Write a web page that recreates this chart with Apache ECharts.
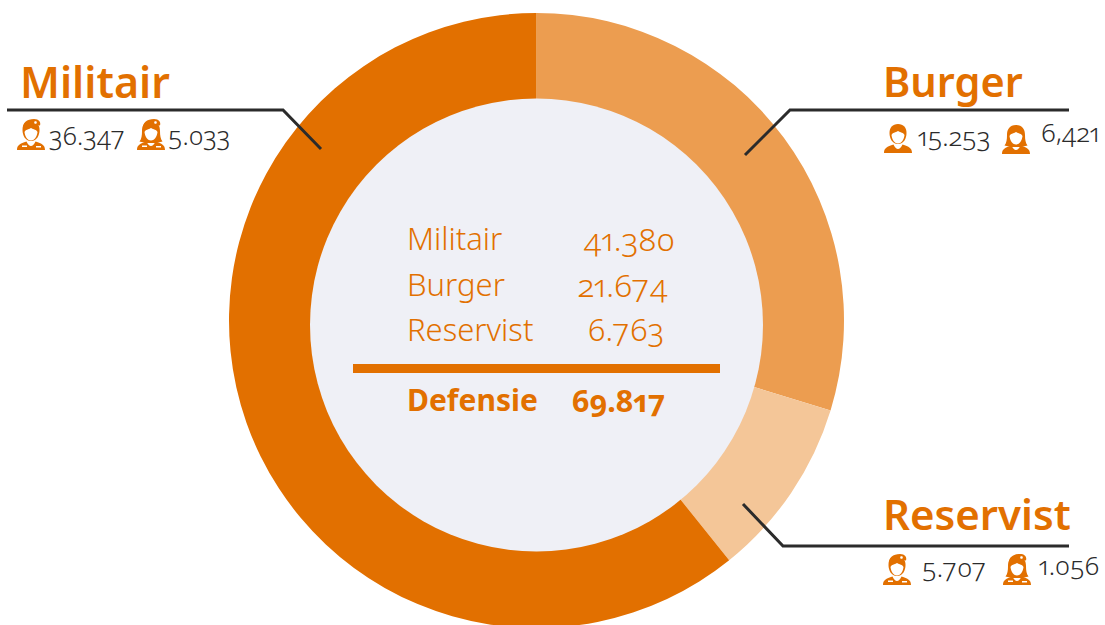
<!DOCTYPE html>
<html>
<head>
<meta charset="utf-8">
<style>
    html, body { margin: 0; padding: 0; background: #fff; }
    #main { width: 1105px; height: 625px; }
    svg text { font-variant-numeric: oldstyle-nums proportional-nums; }
</style>
<script src="https://cdn.jsdelivr.net/npm/echarts@6/dist/echarts.min.js"></script>
</head>
<body>
<div id="main"></div>
<script type="text/javascript">
    // clockwise from 12 o'clock
    var categories = ['Burger', 'Reservist', 'Militair'];
    var arcDegrees = [107, 34.2, 218.8];
    var sliceColors = ['#ec9d50', '#f4c698', '#e27000'];

    var tableNames = ['Militair', 'Burger', 'Reservist'];
    var tableValues = ['41.380', '21.674', '6.763'];
    var totalName = 'Defensie';
    var totalValue = '69.817';

    var orange = '#e27000';
    var dark = '#2b2b2b';
    var font = '"Noto Sans", sans-serif';

    // graphic component has no plain path type, so register the pictogram parts
    function addShape(name, pathData) {
        echarts.graphic.registerShape(name, echarts.graphic.extendPath(pathData));
    }
    addShape('hairWoman', 'M14 2C7.5 2 5 6.5 5 12C5 16.5 4.5 20 2.5 22.5L9 24L19 24L25.5 22.5C23.5 20 23 16.5 23 12C23 6.5 20.5 2 14 2Z');
    addShape('hairMan', 'M14 2C8.5 2 5.5 5.5 5.5 11C5.5 16 8 22 14 22C20 22 22.5 16 22.5 11C22.5 5.5 19.5 2 14 2Z');
    addShape('face', 'M14 9C11.5 10.5 8.5 10.5 7.5 13C8 18 11 21.5 14 21.5C17 21.5 20 18 20.5 13C19.5 10.5 16.5 10.5 14 9Z');
    addShape('torso', 'M0 31C0 26 3 24.5 9.5 22.5C10.5 25 12.5 27 14 27C15.5 27 17.5 25 18.5 22.5C25 24.5 28 26 28 31Z');
    addShape('beret', 'M6 10C5 4 10 0 17 0C22 0 24 3 23 6.5C18 6 11 6.5 6 10Z');

    function text(x, y, str, size, color, weight, align) {
        return {
            type: 'text', x: x, y: y, silent: true, z: 10,
            style: {
                text: str, fill: color, fontFamily: font, fontSize: size,
                fontWeight: weight || 300, align: align || 'left', verticalAlign: 'middle'
            }
        };
    }

    function leader(points) {
        return {
            type: 'polyline', silent: true, z: 20,
            shape: { points: points },
            style: { stroke: dark, lineWidth: 3, fill: null }
        };
    }

    // little person pictogram, soldier gets a beret, woman gets longer hair
    function person(x, y, woman, soldier) {
        var kids = [
            { type: woman ? 'hairWoman' : 'hairMan', style: { fill: orange } },
            { type: 'face', style: { fill: '#fff' } },
            { type: 'torso', style: { fill: orange } }
        ];
        if (soldier) {
            kids.push({ type: 'beret', style: { fill: orange } });
            kids.push({ type: 'circle', shape: { cx: 18.5, cy: 3.5, r: 1.3 }, style: { fill: '#fff' } });
            kids.push({ type: 'rect', shape: { x: 5, y: 26.5, width: 5, height: 1.5 }, style: { fill: '#fff' } });
            kids.push({ type: 'rect', shape: { x: 19, y: 27, width: 5, height: 1.5 }, style: { fill: '#fff' } });
        }
        return { type: 'group', x: x, y: y, silent: true, z: 10, children: kids };
    }

    var cx = 536.5, cy = 320.5;
    var graphics = [
        // the hole sits a little below the middle of the ring in the original
        { type: 'circle', silent: true, z: 3, shape: { cx: cx, cy: 325, r: 226.5 }, style: { fill: '#eff0f6' } },

        leader([[7, 110], [283, 110], [321, 149]]),
        leader([[1069, 110], [790, 110], [745, 155]]),
        leader([[1069, 546], [783, 546], [743, 504]]),

        text(20, 81, categories[2], 43, orange, 600),
        text(883, 81, categories[0], 41.5, orange, 600),
        text(883, 513, categories[1], 42, orange, 600),

        person(17, 119, false, true),
        text(49, 135, '36.347', 25.5, dark),
        person(137, 119, true, true),
        text(168, 135, '5.033', 25.5, dark),

        person(884, 122, false, false),
        text(918, 136, '15.253', 26, dark),
        person(1002, 123, true, false),
        text(1041, 132, '6,421', 26, dark),

        person(883, 554, false, true),
        text(922, 567, '5.707', 26, dark),
        person(1003, 554, true, true),
        text(1039, 565, '1.056', 26, dark),

        { type: 'rect', silent: true, z: 5, shape: { x: 353, y: 364, width: 367, height: 9 }, style: { fill: orange } },

        text(407, 238, tableNames[0], 31, orange),
        text(407, 284, tableNames[1], 31, orange),
        text(407, 329, tableNames[2], 31, orange),
        text(675, 238, tableValues[0], 32, orange, 300, 'right'),
        text(668, 284, tableValues[1], 32, orange, 300, 'right'),
        text(664, 329, tableValues[2], 31, orange, 300, 'right'),
        text(407, 399, totalName, 30, orange, 700),
        text(665, 400, totalValue, 30.5, orange, 700, 'right')
    ];

    var pieData = categories.map(function (name, i) {
        return { name: name, value: arcDegrees[i], itemStyle: { color: sliceColors[i] } };
    });

    var chart = echarts.init(document.getElementById('main'), null, { renderer: 'svg' });
    chart.setOption({
        animation: false,
        graphic: { elements: graphics },
        series: [
            {
                type: 'pie',
                z: 1,
                center: [cx, cy],
                radius: [200, 307.5],
                startAngle: 90,
                clockwise: true,
                silent: true,
                label: { show: false },
                labelLine: { show: false },
                data: pieData
            }
        ]
    });
</script>
</body>
</html>
